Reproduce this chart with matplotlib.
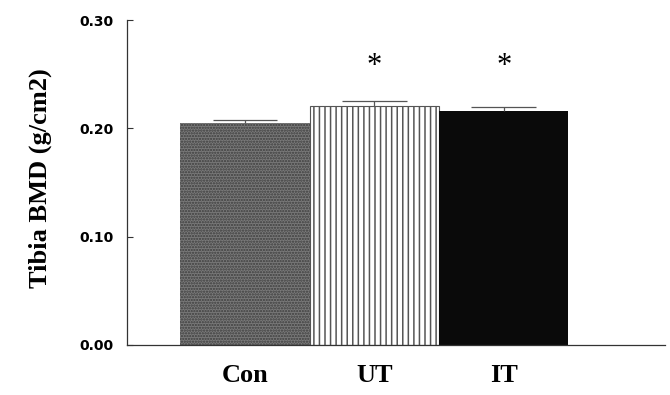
import matplotlib
matplotlib.use("Agg")
import matplotlib.pyplot as plt
import numpy as np

# values
groups = ["Con", "UT", "IT"]
bmd = [0.205, 0.221, 0.2165]
sem = [0.0032, 0.0043, 0.0034]
signif = ["", "*", "*"]
yticks = [0.00, 0.10, 0.20, 0.30]

plt.rcParams["hatch.linewidth"] = 1.1

fig = plt.figure(figsize=(6.7, 3.95), dpi=100)
ax = fig.add_axes([0.19, 0.127, 0.803, 0.822])

x = np.arange(len(groups))
faces = ["#7a7a7a", "white", "#0a0a0a"]
hatch_cols = ["#3c3c3c", "#555555", "#0a0a0a"]
hatches = ["......", "|||", None]
for xi, h, fc, hc, ht in zip(x, bmd, faces, hatch_cols, hatches):
    ax.bar(xi, h, width=1.0, facecolor=fc, edgecolor=hc, hatch=ht,
           linewidth=0 if ht != "|||" else 0.8)

# upper-only error bars
top = np.array(bmd) + np.array(sem)
ax.vlines(x, bmd, top, color="#555555", lw=0.9)
ax.hlines(top, x - 0.25, x + 0.25, color="#555555", lw=0.9)

for xi, s in zip(x, signif):
    if s:
        ax.text(xi, 0.271, s, ha="center", va="top", fontsize=22,
                family="Liberation Serif")

ax.set_xlim(-0.91, 3.25)
ax.set_ylim(0, 0.30)
ax.set_yticks(yticks)
ax.set_yticklabels([f"{v:.2f}" for v in yticks], fontsize=10,
                   fontweight="bold", family="DejaVu Sans")
ax.tick_params(axis="y", direction="in", length=4, width=0.8, pad=10,
               color="#333333")
ax.set_xticks(x)
ax.set_xticklabels(groups, fontsize=19, fontweight="bold",
                   family="Liberation Serif")
ax.tick_params(axis="x", length=0, pad=14)

for s in ["top", "right"]:
    ax.spines[s].set_visible(False)
for s in ["left", "bottom"]:
    ax.spines[s].set_color("#333333")
    ax.spines[s].set_linewidth(0.9)

fig.text(0.06, 0.55, "Tibia BMD (g/cm2)", rotation=90, ha="center",
         va="center", fontsize=19, fontweight="bold",
         family="Liberation Serif")

fig.savefig("out.png", dpi=100)
